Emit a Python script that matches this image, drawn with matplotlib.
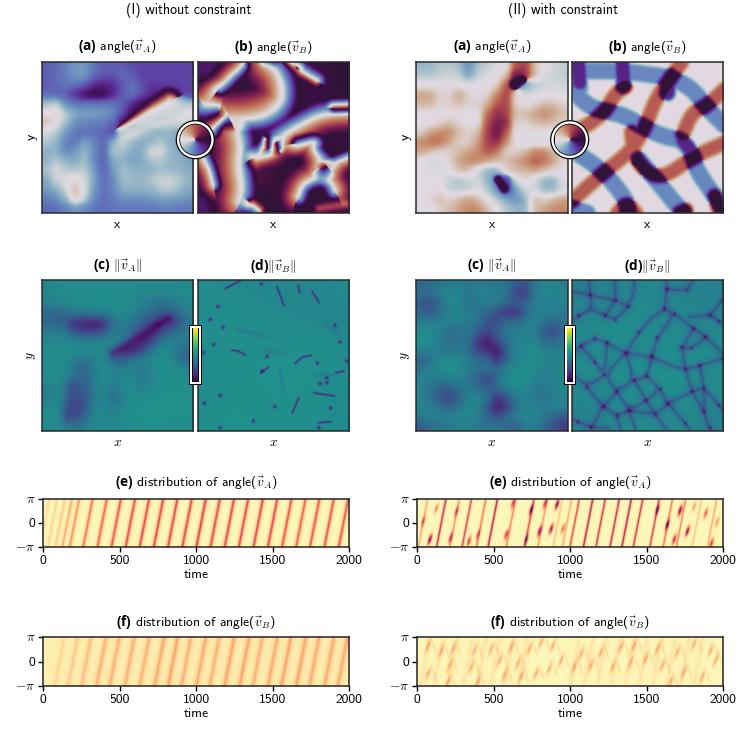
import numpy as np
import matplotlib
matplotlib.use('Agg')
import matplotlib.pyplot as plt
from matplotlib.patches import Circle, Rectangle

plt.rcParams.update({'font.family': 'cmss10', 'mathtext.fontset': 'custom', 'mathtext.rm': 'cmss10',
                     'mathtext.it': 'cmmi10', 'mathtext.bf': 'Open Sans:bold', 'mathtext.fallback': 'cm',
                     'axes.unicode_minus': False, 'font.size': 9.8})

# angle fields, twelfths of a turn of the colour wheel: 0 white, 3 blue, 6 dark, 9 brown
angle_I_a = [
 [3.5,3.2,2.8,2.2,2.2,3,3.5,3.5,3.5,3.8,4,4,4,4,4,4],
 [3.5,3.1,2.8,2.2,2.2,3.2,3.6,3.6,3.2,3.6,4,4,4,4,4,4],
 [3.5,3.3,3,3,3.5,4.5,4.8,4.5,3.6,3,3.8,4.2,4.2,4.2,4,4],
 [3.3,3.3,3.5,4.5,5.4,5.8,5.5,4.6,3.5,3,3.8,4.6,5,4.6,4.2,4],
 [1.2,.8,2.5,3,3,3,3,3,3.4,4.5,5.5,5.8,6,0,.5,1],
 [0,11.5,1,1.8,2,2,2.2,2.6,3.8,5.5,6,.3,.5,0,0,0],
 [11,0,1.2,2.5,2.6,2.8,2.8,3.4,5.5,6,.3,0,.3,.5,.5,.6],
 [.3,1,2.2,3,3.2,3.2,3.4,4,.5,0,.8,1.5,1.7,1.5,2,2],
 [1,1.5,2.8,3,2,2.6,3.4,1.6,.5,1.4,1.8,1.6,1,1.6,2,2],
 [1.6,1.6,2.6,2.2,1.4,2.6,3.5,1,1.2,1.8,1.8,.3,.3,1.5,1.8,2],
 [1.5,1,1.6,1.8,1.2,2.6,3.5,1.8,1.6,2,1.8,1.2,1,1.5,1.6,2],
 [1.2,.3,.8,1,.8,2.2,3.4,2.2,1.2,1.5,1.6,1.6,1.2,1.4,1.5,1.8],
 [1.8,.6,.3,11.5,.4,2,3.2,2.5,1.2,1.4,1.5,1,.6,.6,1,1.6],
 [2.2,1.6,.5,10.8,.3,2.2,3.2,2.6,1.6,1.6,1.6,1.5,1,.8,1.4,1.8],
 [2.8,2.5,1.5,11.2,.8,2.6,3.2,2.8,2.4,2.4,2.4,2.2,2,2,2.2,2.4],
 [3.3,3.2,2.8,2.2,2.6,3,3.2,3,3,3,3,3,2.8,2.8,3,3]]
angle_II_a = [
 [1.5,1.5,1,1,1.2,2.5,1.2,.8,.3,0,9,8.5,11,0,.5,.8],
 [1,1,.8,.6,.8,2,.8,.3,0,11,7,8,11,.3,.6,.8],
 [0,0,0,0,0,.2,.1,0,11.5,9,6,2,1,.6,.5,.5],
 [10.5,10.5,11.5,11.5,10.5,11.5,0,11.5,10,8.5,11.5,.5,.3,.2,.2,.3],
 [10.8,10.8,11.5,11.5,11,11.5,11.5,10.8,9,8.5,11.5,0,11.5,11,11,11.5],
 [0,0,0,0,0,0,0,9.5,8,8.5,11,11,10.5,10,10.5,11],
 [0,0,11.5,11,11.5,0,0,9,7.5,8,11.5,11.5,11,10.8,11,11.5],
 [11.5,10.5,10,10,11,11.5,11,8.5,7,9,0,0,0,0,0,0],
 [10,9.5,9.5,10.5,11.5,11.5,10.5,8.5,8,10,0,.5,.5,.5,0,0],
 [10.5,11,11.5,11.5,11,10.5,10,9,9.5,11.5,11.5,11,10,10,11,11.5],
 [0,.5,.5,11.5,10.5,10,10,10.5,11,11,10.5,10,9,9.5,10.5,11.5],
 [0,.3,.3,0,11,11,.5,1.5,1.5,11.5,11,10.8,10.5,11,11.5,0],
 [0,0,0,.8,1,.7,.5,1.5,3,4.5,.5,11.5,.5,1.5,1.5,0],
 [0,0,11.8,.8,1,.8,.2,1,2.5,5,2,.5,.5,1.5,1.5,.5],
 [0,11.5,11,11.5,11,10.5,11,0,1,2,2.5,1.5,11,11.5,11,10.5],
 [.2,.2,11.5,11,10.5,10,10,11,0,1,1.5,1.5,11,10.5,10,10]]
base_I_b = [[5,5.5,6,6,5.5,6],[6,6,6.5,7,5.5,6],[5.5,5,5,5,5.5,5.5],[6,6.5,6.5,5.5,6,6],[6,6.5,7,6,6,6],[5,6,6,6,6,6]]

# ridge in panel I a and dark spots in panel II a, panel percent coordinates
ridge_I_a = [(47,47),(60,40),(72,33),(84,27)]
spots_II_a = [[(64.5,15.5),(69.5,12.5)], [(54,78),(58,84)]]
# phase-slip lines of panel I b: path, side of the brown flank, brown width, blue width
slips_I_b = [
 ([(14,18),(21,9),(29,3)], 'left', 7, 4),
 ([(46,1),(52,7),(57,18),(56,28),(45,35),(32,37),(19,37),(13,36),(5,29)], 'right', 12, 6),
 ([(13,36),(10,46)], 'right', 7, 4),
 ([(100,34),(81,36),(68,43),(57,50),(49,56)], 'left', 9, 6),
 ([(46,52),(52,58)], 'left', 3, 3),
 ([(49,55),(37,63)], 'left', 6, 4),
 ([(25,47),(29,56),(28,69),(30,83),(27,92)], 'right', 13, 6),
 ([(4,65),(8,72),(10,81)], 'right', 7, 4),
 ([(66,54),(78,52),(75,58),(83,67)], 'right', 7, 4),
 ([(66,89),(69,81),(79,76),(87,79),(90,85)], 'left', 8, 4),
 ([(35,94),(40,98)], 'left', 3, 4),
 ([(83,70),(100,63)], 'right', 6, 3),
 ([(68,7),(78,13)], 'right', 3, 4),
 ([(100,31),(90,31)], 'left', 3, 4),
 ([(60,0),(64,3)], 'right', 3, 4)]
brown_only_I_b = [[(80,97),(100,94)], [(44,0),(50,0)]]

# crossing bands of panel II b
blue_II_b = [
 [(0,6.6),(13,6.6),(33,6.6),(50,8.8),(65,11),(79,18),(88,30),(100,42)],
 [(0,19),(11,30),(22,33),(35,36),(48,44),(61,50),(73,52),(80,63),(82,72),(94,89),(100,99)],
 [(0,58),(4,61),(20,72),(31,85),(36,93),(37,100)],
 [(44,65),(56,79),(68,94),(74,100)],
 [(0,97),(10,100)],
 [(33,0),(34,16)], [(4,0),(5,18)], [(64,10),(63,21)]]
purple_II_b = [[(33,0),(34,14)], [(4,0),(5,14)], [(64,10),(63,21)], [(73,52),(79,60)]]
brown_II_b = [
 [(0,92),(20,74),(39,59),(48,44),(55,25),(65,11),(72,1)],
 [(0,47),(11,42),(22,33),(28,22),(35,17)],
 [(39,47),(41,65),(57,79),(80,63),(100,54)],
 [(73,48),(79,34),(88,30),(100,19)],
 [(30,100),(36,93),(42,100)], [(94,89),(97,100)], [(71,100),(75,98)]]

# norm fields (percent of the colour range)
norm_I_c = [
 [44,46,46,46,46,46,46,46,46,46,46,46,46,46,46,46],
 [44,45,45,46,46,46,46,46,46,46,44,44,43,44,45,45],
 [42,43,44,46,46,47,47,46,46,45,42,38,36,38,42,44],
 [34,30,36,38,38,40,42,44,45,42,38,34,28,28,36,42],
 [32,30,28,22,16,16,20,34,42,38,30,22,14,10,26,38],
 [40,40,38,26,20,20,26,38,40,32,20,10,22,32,36,42],
 [44,44,44,42,42,42,44,44,38,20,8,18,36,42,40,40],
 [46,46,46,46,46,46,44,36,14,8,22,38,44,44,36,30],
 [46,46,46,40,36,42,44,34,26,38,42,45,46,46,36,32],
 [46,46,44,36,32,42,46,42,42,44,38,44,47,47,45,42],
 [46,46,42,32,30,40,46,42,44,44,37,42,47,47,47,47],
 [40,44,40,28,28,40,44,38,44,46,42,45,47,47,47,47],
 [40,45,38,24,26,40,44,34,42,46,46,47,48,48,48,48],
 [46,46,34,20,26,42,44,40,44,47,48,48,48,48,48,48],
 [46,46,34,22,32,44,44,44,46,47,48,48,48,48,48,48],
 [46,46,40,36,42,44,44,44,46,47,47,47,47,46,46,46]]
norm_II_c = [
 [32,34,38,40,40,38,40,40,38,38,28,26,38,44,44,40],
 [34,34,40,44,44,38,42,42,40,36,22,18,38,44,44,42],
 [28,24,34,44,44,36,38,40,40,34,28,32,40,42,42,42],
 [32,26,36,42,44,40,38,32,24,16,14,30,42,42,40,40],
 [40,40,42,42,42,40,36,24,24,34,34,40,42,36,32,36],
 [46,46,42,34,36,38,30,20,30,38,40,42,40,28,22,32],
 [48,46,40,34,36,38,16,8,22,34,42,44,44,34,32,38],
 [42,42,40,36,40,34,20,14,6,30,42,44,46,44,40,42],
 [30,36,44,46,46,40,34,32,14,30,42,46,46,44,42,44],
 [36,42,46,48,46,40,36,36,34,42,46,46,44,42,42,44],
 [42,42,38,42,42,38,30,20,34,44,48,48,44,40,42,44],
 [42,36,30,30,36,40,36,30,32,42,46,44,38,38,42,44],
 [42,36,28,20,30,42,44,36,16,24,40,42,38,36,40,44],
 [42,42,36,30,38,44,42,28,8,18,36,42,42,40,42,42],
 [38,42,42,42,44,44,42,34,24,34,40,44,44,38,32,24],
 [28,34,36,38,42,42,38,36,38,34,30,40,40,34,24,18]]
norm_I_d = [[46,45,44,44,44,45],[46,47,46,45,44,43],[47,47,46,46,47,46],[46,47,48,49,48,47],[46,47,47,48,47,46],[47,48,47,47,47,46]]
norm_II_d = [[42,43,44,44,42,42],[43,46,46,45,45,44],[45,47,46,46,46,45],[45,47,48,47,48,46],[44,46,47,47,47,45],[42,45,46,45,45,42]]
# dark crests of panel I c: path, depth, width in percent of the panel
crests_I_c = [([(47,49),(60,41),(76,31)], .5, 3), ([(76,30),(83,26)], .55, 2.4), ([(20,30),(38,30)], .25, 3.4), ([(17,92),(19,70)], .2, 3.4)]

# defects in ||v_B||, panel percent coordinates
dots_I_x = [41.8,13,8.1,16.5,10.3,3.7,45.5,90.2,93.5,78.5,97.9,42.2,84.7,84.7,80.3,14.7,4.2,50.6,87.3,36.3,14.7,79.6]
dots_I_y = [3.1,18,26.8,31.9,43.1,48.4,51,30.4,41.4,55.4,53.9,60.5,64.9,68.2,68.9,76.6,81.8,84,84.9,93.3,97.9,97.9]
lines_I = [[(18,6.2),(27.9,1.1)],[(52.1,5.5),(56.5,17.6)],[(66,4.4),(66.9,8.8)],[(75.2,8.4),(79.6,15.4)],
           [(22.4,46.9),(27,47.5),(31.2,50.2)],[(64.2,55.4),(68,51.5),(74.1,50.2)],[(41.5,62),(46,58)],
           [(90.6,61.6),(96.1,60.5)],[(62,88),(66.4,78.1)],[(76.3,74.8),(89.5,77)],[(79.6,94.6),(87.3,93.9)]]
faint_I = [[(76,63),(90,63)],[(54,60),(56,74)],[(84,30),(92,35)],[(45,47),(58,50)],[(26,33),(45,38)]]
nodes_II_x = [12,29,37,22,28.6,4.6,62.5,75.8,99,60.8,67.4,91,96.7,80,88,44,56,15,23,6,72,78.6,35.5,52.6,99,15,84,74.7,21.4,49.3,41,9.7,29.5,58,87,79,48.7,63,96.7,20.7,37.7,55,86.8,29.5,74.7,12.6,4,91]
nodes_II_y = [10.6,14,18,24,27,24,6.6,7.7,14,19.4,23,24,28,32.7,38,35,38.6,39,42,44,45,45.7,49,51,52.5,54.7,57,59.6,63,64,66.7,71,74,72.4,71.7,74,80,82,83,84,86.5,89.4,87,90,95,97.6,94,98]
edges_II = [
 [(11,0),(12,10.6),(13,20),(4.6,24),(0,28)], [(0,8),(12,10.6),(29,14),(37,18),(41,8),(41,0)],
 [(13,20),(22,24),(28.6,27),(37,18)], [(22,24),(29,14),(28,0)],
 [(0,50),(6,44),(15,39),(23,42),(35.5,49),(52.6,51),(72,60),(84,57),(99,52.5)],
 [(35.5,49),(44,35),(52,26),(60.8,19.4),(67.4,23),(56,38.6),(52.6,51)],
 [(60.8,19.4),(62.5,6.6),(62,0)], [(62.5,6.6),(75.8,7.7),(80,0)],
 [(67.4,23),(80,32.7),(88,38),(100,50)], [(80,32.7),(72,45),(74.7,59.6),(79,74),(86.8,87),(91,100)],
 [(72,45),(78.6,45.7),(88,38)], [(78,25),(91,24),(99,14)], [(91,24),(96.7,28),(100,30)],
 [(6,44),(15,54.7),(21.4,63),(23,42)], [(21.4,63),(9.7,71),(0,62)],
 [(35.5,49),(21.4,63),(29.5,74),(41,66.7),(35.5,49)], [(41,66.7),(48.7,80),(55,89.4),(63,100)],
 [(41,66.7),(49.3,64),(52.6,51)], [(49.3,64),(58,72.4),(48.7,80),(37.7,86.5),(29.5,74)],
 [(58,72.4),(63,82),(74.7,95),(78,100)], [(63,82),(55,89.4),(37.7,86.5)],
 [(63,82),(79,74),(87,71.7),(96.7,83),(100,88)], [(84,57),(87,71.7),(86.8,87)],
 [(9.7,71),(20.7,84),(29.5,90),(37.7,86.5)], [(20.7,84),(12.6,97.6)], [(29.5,90),(32,100)],
 [(0,92),(4,94),(12.6,97.6),(24,98)], [(37.7,86.5),(42,100)], [(29.5,74),(20.7,84)]]

# stripes of the distributions: time where a stripe crosses -pi, strength
stripes_I_e = [-20,30,80,126,174,262,355,447,540,632,724,817,911,1003,1095,1188,1281,1377,1471,1564,1656,1747,1841,1935]
level_I_e = [.05,.06,.08,.13,.17,.22,.25,.28,.3,.31,.31,.31,.31,.33,.31,.31,.31,.31,.31,.28,.26,.28,.28,.28]
stripes_II_e = [7,127,214,294,388,464,583,703,790,890,950,1000,1088,1170,1262,1340,1415,1523,1610,1697,1800,1900]
level_II_e = [.15,.45,.18,.38,.25,.5,.22,.35,.18,.1,.15,.35,.5,.42,.45,.5,.42,.38,.25,.22,.1,.15]
stripes_I_f = [75,163,251,349,436,534,632,730,818,905,1003,1090,1188,1286,1373,1471,1559,1657,1744,1842,1929]
level_I_f = [.04,.06,.08,.1,.1,.1,.1,.11,.12,.1,.11,.1,.12,.12,.1,.11,.12,.12,.11,.11,.11]
stripes_II_f = [20,110,200,300,390,480,570,660,1000,1090,1180,1270,1360,1450,1540,1630,1720,1810]
level_II_f = [.03]*18
blob_t_e = [83,39,126,218,257,339,398,583,627,746,714,801,877,838,916,953,1573,1638,1682,1721,1769,1926,1889,1965,1813]
blob_a_e = [-2.2,.15,1.84,-2,1.42,-2.42,-1.56,-1.56,2.49,1.65,-2.2,-1.13,-.83,2.49,2.37,-.83,1.65,-.28,-2.2,1.56,-1.13,-2.72,1.22,.1,2.07]
blob_v_e = [.7,.3,.25,.45,.35,.45,.3,.45,.4,.55,.45,.6,.6,.45,.7,.3,.5,.6,.5,.7,.65,.45,.35,.22,.2]
blob_t_f = [72,235,376,485,616,735,888,812,213,355,540,659,572,779,866,1073,1203,1334,1421,1573,1704,1813,1954,1606,1747,1660,1279,1138,1029,942,1497,1399,1867,202,398,681,1921,72,159]
blob_a_f = [-1.53,1.66,1.44,1.66,1.87,1.66,2.08,2.5,-.47,-.68,.17,-.25,-1.74,-1.53,-.89,1.02,1.23,1.87,2.08,1.66,1.23,2.29,.17,-.47,-1.32,-2.59,-.68,-.47,-.68,.17,.38,-.04,-1.95,-2.59,-2.59,-1.95,1.44,2.08,1.44]

W, H = 752, 741
N = 240
fig = plt.figure(figsize=(W/100, H/100), dpi=100)
_g = (np.arange(N, dtype=np.float32)+.5)/N*100
GX, GY = np.meshgrid(_g, _g)

def px_axes(x0, y0, x1, y1, **kw):
    return fig.add_axes([x0/W, 1-y1/H, (x1-x0)/W, (y1-y0)/H], **kw)

def smooth_path(path, n=3):
    p = np.array(path, float)
    for _ in range(n):
        if len(p) < 3:
            break
        q = np.zeros((2*(len(p)-1), 2))
        q[0::2] = .75*p[:-1]+.25*p[1:]
        q[1::2] = .25*p[:-1]+.75*p[1:]
        p = np.vstack([p[0], q, p[-1]])
    return p

def path_dist(path, smooth=3):
    """Signed distance to a path (positive on its right on screen, y down) and position along it."""
    p = smooth_path(path, smooth)
    s = np.r_[0, np.cumsum(np.hypot(*np.diff(p, axis=0).T))]
    si = np.arange(0, s[-1]+.5, .5)
    q = np.c_[np.interp(si, s, p[:, 0]), np.interp(si, s, p[:, 1])].astype(np.float32)
    t = np.gradient(q, axis=0)
    t /= np.maximum(np.hypot(t[:, 0], t[:, 1])[:, None], 1e-6)
    dx = GX[..., None]-q[:, 0]
    dy = GY[..., None]-q[:, 1]
    idx = np.argmin(dx*dx+dy*dy, axis=-1)
    I, J = np.indices(idx.shape)
    ddx, ddy = dx[I, J, idx], dy[I, J, idx]
    sign = np.sign(-ddx*t[idx, 1]+ddy*t[idx, 0])
    sign[sign == 0] = 1
    return sign*np.hypot(ddx, ddy), idx/max(len(q)-1, 1)

def box_blur(a, w):
    w = int(w) | 1
    if w < 2:
        return a
    k = np.ones(w)/w
    pad = w//2
    for ax_ in (0, 1):
        a = np.apply_along_axis(lambda v: np.convolve(np.pad(v, pad, mode='edge'), k, 'valid'), ax_, a)
    return a

def up(grid, k=1.0):
    g = np.array(grid)
    r, c = g.shape
    xi = (np.arange(N)+.5)/N*c-.5
    yi = (np.arange(N)+.5)/N*r-.5
    def li(a, x, m):
        return np.array([np.interp(x, np.arange(m), row.real)+(1j*np.interp(x, np.arange(m), row.imag) if np.iscomplexobj(a) else 0) for row in a])
    z = li(g, xi, c)
    z = li(z.T, yi, r).T
    return box_blur(z, N/c*k)

def cis(u):
    return np.exp(1j*(np.asarray(u)-6)/12*2*np.pi)

def style_panel(ax, spine='#2a2a2a'):
    ax.set_xticks([]); ax.set_yticks([])
    for s in ax.spines.values():
        s.set_color(spine); s.set_linewidth(1.1)

def labels(box, title, xl, yl, ty):
    fig.text((box[0]+box[2])/2/W, 1-ty/H, title, ha='center', va='center')
    fig.text((box[0]+box[2])/2/W, 1-(box[3]+12)/H, xl, ha='center', va='center')
    if yl:
        fig.text((box[0]-10)/W, 1-(box[1]+box[3])/2/H, yl, rotation=90, ha='center', va='center')

def show_angle(box, z, title, xl, yl=None):
    ax = px_axes(*box)
    ax.imshow(np.angle(z), cmap='twilight', vmin=-np.pi, vmax=np.pi, aspect='auto',
              interpolation='antialiased', interpolation_stage='rgba', extent=(0, 100, 100, 0))
    style_panel(ax)
    labels(box, title, xl, yl, 47)

def show_norm(box, v, title, xl, yl=None):
    ax = px_axes(*box)
    ax.imshow(v, cmap='viridis', vmin=.02, vmax=.93, aspect='auto', interpolation='antialiased',
              extent=(0, 100, 100, 0))
    style_panel(ax)
    labels(box, title, xl, yl, box[1]-13.5)

# ---- top row ----
z = up(cis(np.array(angle_I_a)), .9)
d, s = path_dist(ridge_I_a)
wu = 2+9*s; wl = 4+8*s
x = np.where(d < 0, -d/wu, d/wl)
u = np.where(d < 0, 12-6*np.clip(x, 0, 1), 12+1.5*np.clip(x, 0, 1))
m = np.clip(1-x, 0, 1)**.6*np.clip(s*8, 0, 1)
z = (1-m)*z/np.maximum(np.abs(z), 1e-3)+m*cis(u)
show_angle((41.5, 61.5, 193, 213), box_blur(z, 3), r'$\mathbf{(a)}$ angle$(\vec{v}_A)$', 'x', 'y')

off = np.zeros((N, N))
for seg in brown_only_I_b:
    d, s = path_dist(seg)
    off += 2.6*np.exp(-(d/3.2)**2)
for path, side, bw, lw in slips_I_b:
    d, s = path_dist(path)
    sg = 1 if side == 'right' else -1
    Wb, Wl = bw*1.8, lw*1.7
    off += np.where(sg*d > 0, 6*np.clip(1-np.abs(d)/Wb, 0, 1)**1.4, -6*np.clip(1-np.abs(d)/Wl, 0, 1)**1.1)
z = up(cis(np.array(base_I_b)), .8)
z = z/np.maximum(np.abs(z), 1e-3)*cis(off+6)
show_angle((197.5, 61.5, 349, 213), box_blur(z, 3), r'$\mathbf{(b)}$ angle$(\vec{v}_B)$', 'x')

z = up(cis(np.array(angle_II_a)), .9)
for seg in spots_II_a:
    d, s = path_dist(seg)
    m = np.exp(-(d/3)**4)
    z = (1-m)*z+m*cis(5.8)
show_angle((416, 61.5, 567.5, 213), box_blur(z, 3), r'$\mathbf{(a)}$ angle$(\vec{v}_A)$', 'x', 'y')

def weight(d, hw, soft):
    x = np.clip((hw-np.abs(d))/soft, 0, 1)
    return x*x*(3-2*x)

b = np.zeros((N, N)); r = np.zeros((N, N)); pur = np.zeros((N, N))
for path in blue_II_b:
    b = np.maximum(b, weight(path_dist(path)[0], 7.6, 4))
for path in brown_II_b:
    r = np.maximum(r, weight(path_dist(path)[0], 7.4, 5))
for path in purple_II_b:
    pur = np.maximum(pur, .6*weight(path_dist(path)[0], 6, 3))
rr = np.maximum(r, pur)
u = np.where(b >= r, 2.6*b*(1+1.31*rr), -2.9*r*(1+1.07*b))
show_angle((571.5, 61.5, 723, 213), box_blur(cis(u), 3), r'$\mathbf{(b)}$ angle$(\vec{v}_B)$', 'x')

fig.text(189/W, 1-10/H, '(I) without constraint', ha='center', va='center', fontsize=10)
fig.text(563/W, 1-10/H, '(II) with constraint', ha='center', va='center', fontsize=10)

# ---- second row ----
v = up(np.array(norm_I_c, float)/100, .8)
for path, a, wd in crests_I_c:
    d, s = path_dist(path)
    v = v*(1-a*np.exp(-(d/wd)**2))
show_norm((41.5, 279.5, 193, 431), v, r'$\mathbf{(c)}\ \Vert\vec{v}_A\Vert$', '$x$', '$y$')

v = up(np.array(norm_I_d, float)/100, .8)
for seg in faint_I:
    v = v*(1-.12*np.exp(-(path_dist(seg)[0]/1.5)**2))
for seg in lines_I:
    d, s = path_dist(seg)
    v = v*(1-.72*np.exp(-(d/.7)**2))
for x0, y0 in zip(dots_I_x, dots_I_y):
    v = v*(1-.8*np.exp(-((GX-x0)**2+(GY-y0)**2)/1.2**2))
show_norm((197.5, 279.5, 349, 431), v, r'$\mathbf{(d)}\Vert\vec{v}_B\Vert$', '$x$')

show_norm((416, 279.5, 567.5, 431), up(np.array(norm_II_c, float)/100, .8), r'$\mathbf{(c)}\ \Vert\vec{v}_A\Vert$', '$x$', '$y$')

v = up(np.array(norm_II_d, float)/100, .8)
for seg in edges_II:
    d, s = path_dist(seg, 2)
    v = v*(1-.14*np.exp(-(d/3.0)**2))*(1-.3*np.exp(-(d/.9)**2))
for x0, y0 in zip(nodes_II_x, nodes_II_y):
    v = v*(1-.65*np.exp(-((GX-x0)**2+(GY-y0)**2)/1.2**2))
show_norm((571.5, 279.5, 723, 431), v, r'$\mathbf{(d)}\Vert\vec{v}_B\Vert$', '$x$')

# ---- distributions ----
TT, AA = np.meshgrid(np.linspace(0, 2000, 612), np.linspace(-np.pi, np.pi, 98))
TILT = 62

def dist_panel(box, title, times, levels, sig, bg, wide=.35, blobs=None, streaks=None):
    f = np.full(TT.shape, bg, float)
    for t0, lv in zip(times, levels):
        c = t0+TILT*(AA+np.pi)/(2*np.pi)
        f += lv*np.exp(-((TT-c)/sig)**2)+wide*lv*np.exp(-((TT-c)/(sig*2.6))**2)
    if blobs:
        for t0, a0, lv in zip(*blobs):
            dt = TT-t0-90*(AA-a0)/(2*np.pi)
            f += lv*np.exp(-(dt/10)**2-((AA-a0)/.62)**2)
    if streaks:
        for t0, a0 in zip(*streaks):
            dt = TT-t0-110*(AA-a0)/(2*np.pi)
            f += .16*np.exp(-(dt/11)**2-((AA-a0)/.8)**2)
            dt2 = TT-t0-40+80*(AA-a0+.2)/(2*np.pi)
            f += .06*np.exp(-(dt2/7)**2-((AA-a0+.2)/.8)**2)
    ax = px_axes(*box)
    ax.imshow(np.clip(f, 0, 1), cmap='magma_r', vmin=0, vmax=1, origin='lower', aspect='auto',
              extent=(0, 2000, -np.pi, np.pi), interpolation='bilinear')
    ax.set_yticks([-np.pi, 0, np.pi]); ax.set_yticklabels([r'$-\pi$', '0', r'$\pi$'])
    ax.set_xticks([0, 500, 1000, 1500, 2000]); ax.set_xticklabels(['0', '500', '1000', '1500', '2000'])
    ax.tick_params(length=3.5, width=1, pad=2)
    ax.set_xlabel('time', labelpad=2)
    for s_ in ax.spines.values():
        s_.set_linewidth(1.1); s_.set_color('#222222')
    fig.text((box[0]+box[2])/2/W, 1-(box[1]-15)/H, title, ha='center', va='center')

te = r'$\mathbf{(e)}$ distribution of angle$(\vec{v}_A)$'
tf = r'$\mathbf{(f)}$ distribution of angle$(\vec{v}_B)$'
dist_panel((43, 498.5, 349, 547), te, stripes_I_e, level_I_e, 7, .012)
dist_panel((417, 498.5, 723, 547), te, stripes_II_e, level_II_e, 4, .012, blobs=(blob_t_e, blob_a_e, blob_v_e))
dist_panel((43, 637, 349, 686), tf, stripes_I_f, level_I_f, 12, .03)
dist_panel((417, 637, 723, 686), tf, stripes_II_f, level_II_f, 14, .015, wide=.2, streaks=(blob_t_f, blob_a_f))

# ---- wheel legends ----
def wheel(cx, cy):
    r0 = 20
    ax = px_axes(cx-r0, cy-r0, cx+r0, cy+r0)
    ax.set_axis_off(); ax.set_xlim(-r0, r0); ax.set_ylim(-r0, r0)
    ax.add_patch(Circle((0, 0), 19.6, fc='black', ec='none'))
    ax.add_patch(Circle((0, 0), 18.4, fc='white', ec='none'))
    ax.add_patch(Circle((0, 0), 16.0, fc='black', ec='none'))
    g = np.linspace(-15.2, 15.2, 160)
    X, Y = np.meshgrid(g, g)
    im = ax.imshow(np.arctan2(Y, X), cmap='twilight', vmin=-np.pi, vmax=np.pi, origin='lower', zorder=3,
                   extent=(-15.2, 15.2, -15.2, 15.2), interpolation='nearest', aspect='auto')
    im.set_clip_path(Circle((0, 0), 15.2, transform=ax.transData))
    ax.set_xlim(-r0, r0); ax.set_ylim(-r0, r0)

wheel(195.3, 139.7)
wheel(569.7, 139.7)

# ---- colour bar legends ----
def bar(x0, x1, y0, y1):
    ax = px_axes(x0, y0, x1, y1)
    ax.set_axis_off(); ax.set_xlim(x0, x1); ax.set_ylim(y1, y0)
    ax.add_patch(Rectangle((x0, y0), x1-x0, y1-y0, fc='black', ec='none'))
    ax.add_patch(Rectangle((x0+1, y0+1), x1-x0-2, y1-y0-2, fc='white', ec='none'))
    ax.add_patch(Rectangle((x0+3, y0+3), x1-x0-6, y1-y0-6, fc='black', ec='none'))
    ax.imshow(np.linspace(1, 0, 64)[:, None], cmap='viridis', aspect='auto', zorder=3,
              extent=(x0+3.7, x1-3.7, y1-3.7, y0+3.7), interpolation='bilinear')
    ax.set_xlim(x0, x1); ax.set_ylim(y1, y0)

bar(189.3, 201.7, 325.3, 385)
bar(563.7, 576.1, 325.3, 385)

fig.savefig('out.png', dpi=100)
